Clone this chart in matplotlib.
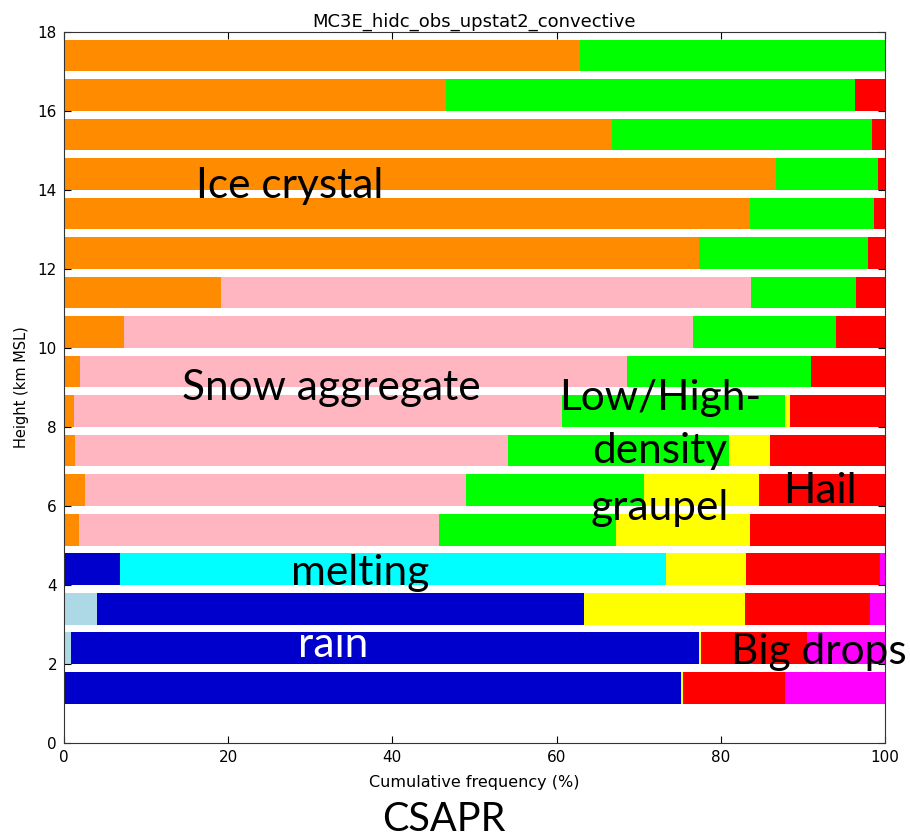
import matplotlib
matplotlib.use("Agg")
import matplotlib.pyplot as plt
import numpy as np

heights = [1, 2, 3, 4, 5, 6, 7, 8, 9, 10, 11, 12, 13, 14, 15, 16, 17]

categories = ["Drizzle", "Rain", "Melting", "Ice crystal", "Snow aggregate",
              "Low-density graupel", "High-density graupel", "Hail", "Big drops"]
colors = ["#add8e6", "#0000cd", "#00ffff", "#ff8c00", "#ffb6c1",
          "#00ff00", "#ffff00", "#ff0000", "#ff00ff"]

drizzle   = [0.0, 0.8, 4.0, 0.0, 0, 0, 0, 0, 0, 0, 0, 0, 0, 0, 0, 0, 0]
rain      = [75.1, 76.5, 59.3, 6.8, 0, 0, 0, 0, 0, 0, 0, 0, 0, 0, 0, 0, 0]
melting   = [0.0, 0.0, 0.0, 66.5, 0, 0, 0, 0, 0, 0, 0, 0, 0, 0, 0, 0, 0]
ice       = [0, 0, 0, 0, 1.8, 2.6, 1.3, 1.2, 1.9, 7.3, 19.1, 77.3, 83.6, 86.7, 66.8, 46.5, 62.8]
aggregate = [0, 0, 0, 0, 43.9, 46.4, 52.8, 59.5, 66.7, 69.3, 64.6, 0, 0, 0, 0, 0, 0]
ld_graupel = [0, 0, 0, 0, 21.5, 21.7, 26.9, 27.1, 22.4, 17.4, 12.8, 20.6, 15.1, 12.4, 31.6, 49.8, 37.2]
hd_graupel = [0.3, 0.3, 19.6, 9.8, 16.4, 14.0, 5.0, 0.6, 0, 0, 0, 0, 0, 0, 0, 0, 0]
hail      = [12.4, 12.9, 15.3, 16.3, 16.4, 15.3, 14.0, 11.6, 9.0, 6.0, 3.5, 2.1, 1.3, 0.9, 1.6, 3.7, 0.0]
big_drops = [12.2, 9.5, 1.8, 0.6, 0, 0, 0, 0, 0, 0, 0, 0, 0, 0, 0, 0, 0]

series = [drizzle, rain, melting, ice, aggregate, ld_graupel, hd_graupel, hail, big_drops]

fig = plt.figure(figsize=(9.1, 8.39), dpi=100)
ax = fig.add_axes([0.0703, 0.1144, 0.9022, 0.8475])

left = np.zeros(len(heights))
for vals, col, name in zip(series, colors, categories):
    v = np.array(vals, dtype=float)
    ax.barh(heights, v, height=0.8, left=left, align='edge', color=col,
            edgecolor='none', linewidth=0, label=name)
    left += v

ax.set_xlim(0, 100)
ax.set_ylim(0, 18)
ax.set_xticks([0, 20, 40, 60, 80, 100])
ax.set_yticks([0, 2, 4, 6, 8, 10, 12, 14, 16, 18])
ax.tick_params(direction='in', top=True, right=True, labelsize=11, length=5, pad=5)
for sp in ax.spines.values():
    sp.set_color('#333333')
ax.set_title("MC3E_hidc_obs_upstat2_convective", fontsize=13, pad=4)
ax.set_xlabel("Cumulative frequency (%)", fontsize=11.5, labelpad=7)
ax.set_ylabel("Height (km MSL)", fontsize=10.5, labelpad=6)

fs = 30.5
fam = ["Lato", "DejaVu Sans"]
kw = dict(fontsize=fs, family=fam, ha='center', va='baseline')
ax.text(27.5, 13.8, "Ice crystal", **kw)
ax.text(32.6, 8.68, "Snow aggregate", **kw)
ax.text(72.6, 8.43, "Low/High-", **kw)
ax.text(72.6, 7.09, "density", **kw)
ax.text(72.6, 5.65, "graupel", **kw)
ax.text(92.1, 6.08, "Hail", **kw)
ax.text(36.1, 4.0, "melting", **kw)
ax.text(32.8, 2.18, "rain", color='white', **kw)
ax.text(81.2, 2.0, "Big drops", fontsize=fs, family=fam, ha='left', va='baseline', clip_on=False)
fig.text(0.488, 0.009, "CSAPR", fontsize=28.5, family=fam, ha='center', va='baseline')

fig.savefig("out.png", dpi=100)
